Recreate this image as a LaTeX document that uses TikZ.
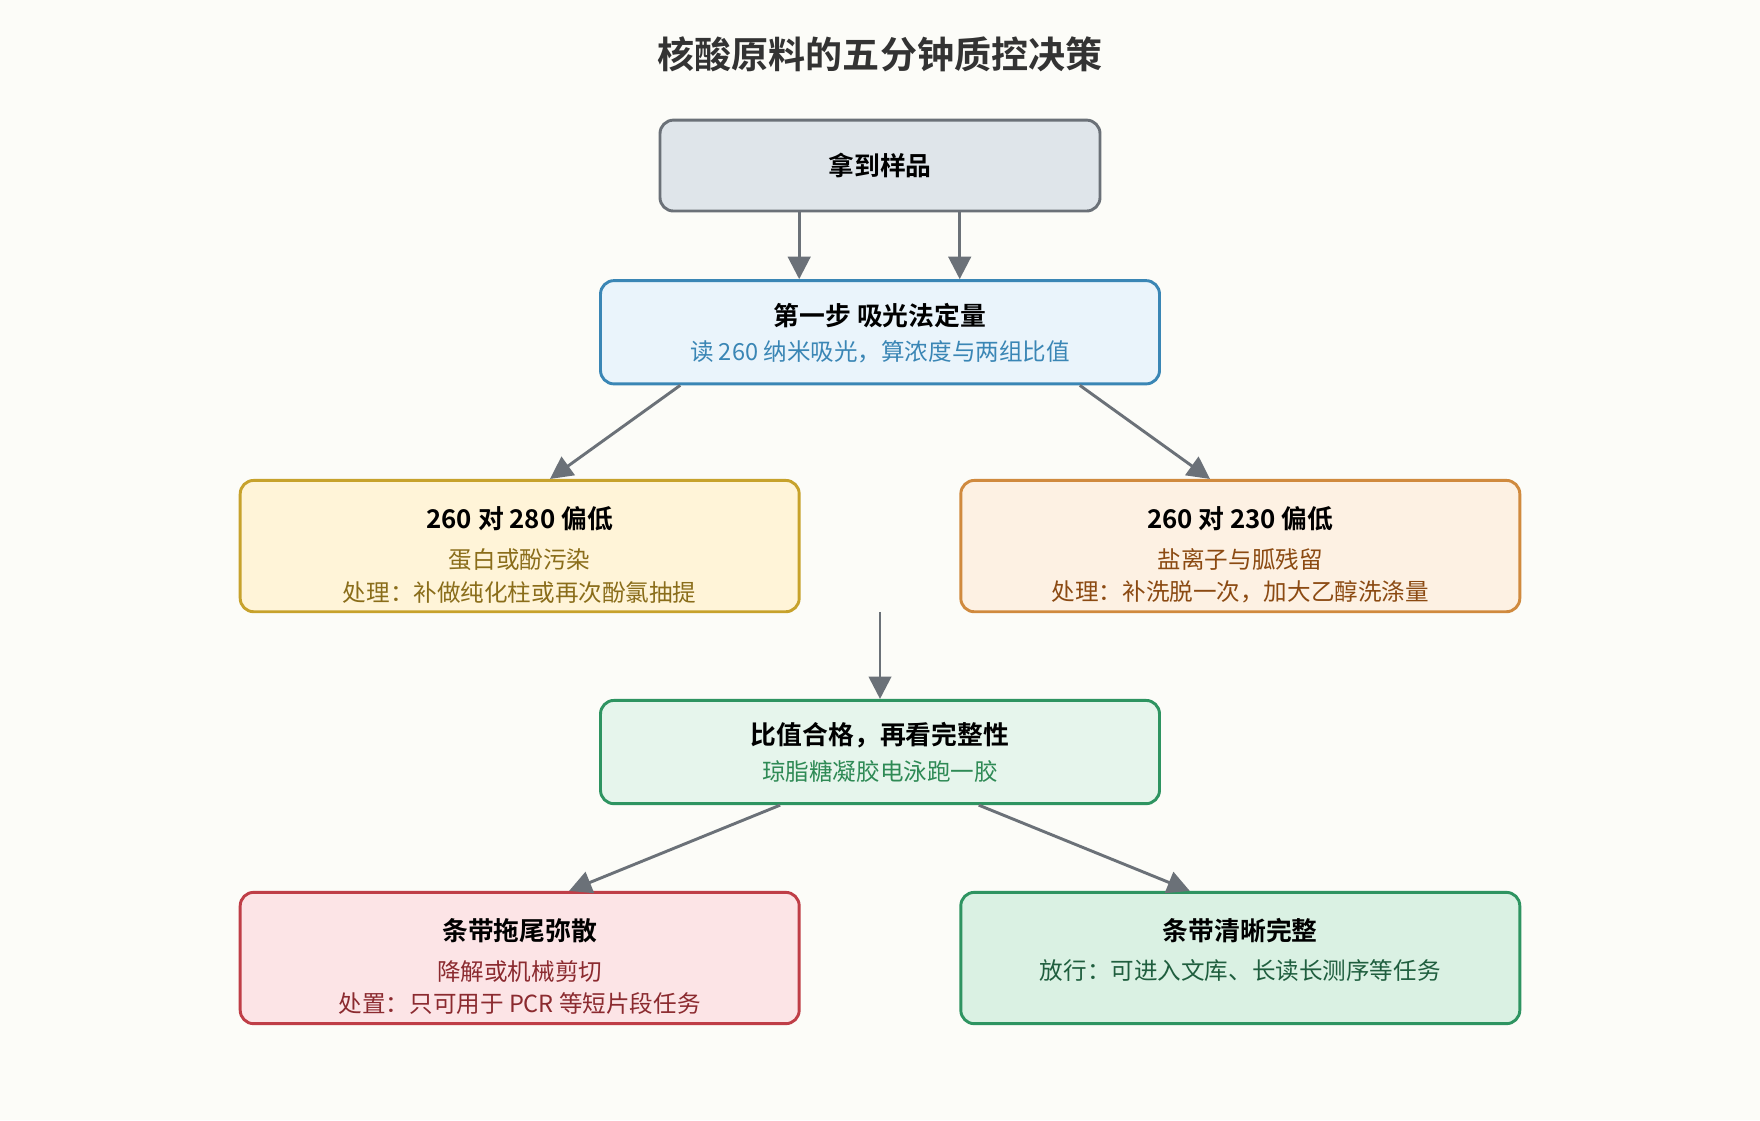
\documentclass[tikz,border=0pt]{standalone}
\usepackage{fontspec}
\setmainfont{Noto Sans CJK SC}[BoldFont={Noto Sans CJK SC Bold}]
\usetikzlibrary{calc,arrows.meta}
\definecolor{bgc}{HTML}{FCFCF8}
\definecolor{edgec}{HTML}{6B7178}
\definecolor{grayf}{HTML}{DFE5EA}
\definecolor{bluef}{HTML}{EAF4FB}\definecolor{blued}{HTML}{3A86B5}
\definecolor{yelf}{HTML}{FFF4D8}\definecolor{yeld}{HTML}{C7A22C}\definecolor{yelt}{HTML}{8A6D1A}
\definecolor{oraf}{HTML}{FDF1E3}\definecolor{orad}{HTML}{D08A3E}\definecolor{orat}{HTML}{8B4A12}
\definecolor{grnf}{HTML}{E6F5EC}\definecolor{grnd}{HTML}{2E9461}\definecolor{grnt}{HTML}{2E8A55}
\definecolor{redf}{HTML}{FCE4E6}\definecolor{redd}{HTML}{BF3E47}\definecolor{redt}{HTML}{8B2A2F}
\definecolor{gr2f}{HTML}{DAF1E3}\definecolor{gr2t}{HTML}{1F5E3E}
\tikzset{
  box/.style n args={4}{draw=#2,fill=#1,line width=1.3pt,rounded corners=6pt,
    minimum width=#3*0.5pt,minimum height=#4*0.5pt,align=center,inner sep=0pt},
  flow/.style={draw=edgec,line width=1.3pt,-{Triangle[length=10pt,width=10pt]}},
  head/.style={font=\bfseries\fontsize{11.5}{14}\selectfont},
  sub/.style={font=\fontsize{10.5}{14.5}\selectfont,align=center}
}
\begin{document}
\begin{tikzpicture}[x=0.5pt,y=-0.5pt]
\fill[bgc] (0,0) rectangle (1568,998);
\useasboundingbox (0,0) rectangle (1568,998);
\node[font=\bfseries\fontsize{16.5}{18}\selectfont,text=black!80] (title) at (784,48) {核酸原料的五分钟质控决策};
\node[box={grayf}{edgec}{392}{81}] (sample) at (784,147.5) {\textbf{\fontsize{11.5}{14}\selectfont 拿到样品}};
\node[box={bluef}{blued}{498}{92}] (step) at (784,296) {};
\node[head] at (784,281) {第一步 吸光法定量};
\node[sub,text=blued] at (784,313) {读 260 纳米吸光，算浓度与两组比值};
\node[box={yelf}{yeld}{498}{117}] (low280) at (463,486.5) {};
\node[head] at (463,462) {260 对 280 偏低};
\node[sub,text=yelt] at (463,513) {蛋白或酚污染\\处理：补做纯化柱或再次酚氯抽提};
\node[box={oraf}{orad}{498}{117}] (low230) at (1105,486.5) {};
\node[head] at (1105,462) {260 对 230 偏低};
\node[sub,text=orat] at (1105,513) {盐离子与胍残留\\处理：补洗脱一次，加大乙醇洗涤量};
\node[box={grnf}{grnd}{498}{92}] (ratio) at (784,670) {};
\node[head] at (784,655) {比值合格，再看完整性};
\node[sub,text=grnt] at (784,687) {琼脂糖凝胶电泳跑一胶};
\node[box={redf}{redd}{498}{117}] (smear) at (463,853.5) {};
\node[head] at (463,829) {条带拖尾弥散};
\node[sub,text=redt] at (463,880) {降解或机械剪切\\处置：只可用于 PCR 等短片段任务};
\node[box={gr2f}{grnd}{498}{117}] (clear) at (1105,853.5) {};
\node[head] at (1105,829) {条带清晰完整};
\node[sub,text=gr2t] at (1105,865) {放行：可进入文库、长读长测序等任务};
\coordinate (gap) at (784,545);
% connectors
\draw[flow] ($(sample.south)+(-72,0)$) -- ($(step.north)+(-72,0)$);
\draw[flow] ($(sample.south)+(71,0)$) -- ($(step.north)+(71,0)$);
\draw[flow] ($(step.south)+(-178,0)$) -- ($(low280.north)+(27,0)$);
\draw[flow] ($(step.south)+(178,0)$) -- ($(low230.north)+(-27,0)$);
\draw[flow] (gap) -- (ratio.north);
\draw[flow] ($(ratio.south)+(-89,0)$) -- ($(smear.north)+(44,0)$);
\draw[flow] ($(ratio.south)+(88,0)$) -- ($(clear.north)+(-45,0)$);
\end{tikzpicture}
\end{document}
